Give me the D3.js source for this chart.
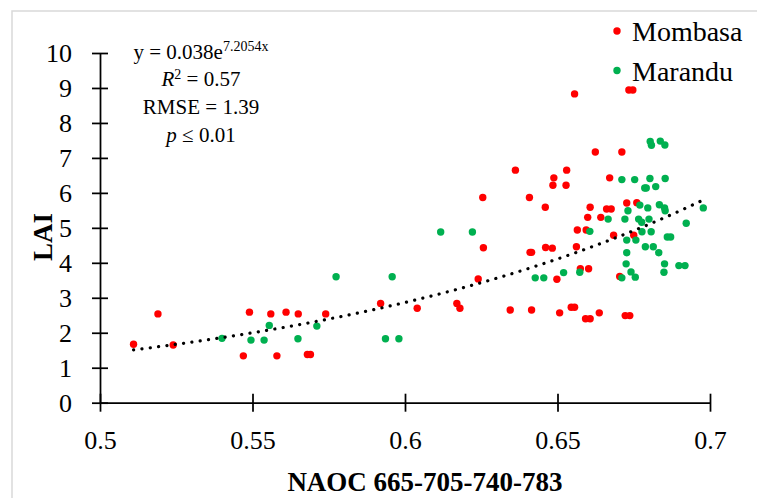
<!DOCTYPE html>
<html>
<head>
<meta charset="utf-8">
<script src="https://cdn.jsdelivr.net/npm/d3@7"></script>
<style>
  body { margin: 0; background: #fff; }
  svg text { font-family: "Liberation Serif", "Times New Roman", serif; fill: #000; }
</style>
</head>
<body>
<div id="chart"></div>
<script>
// values
var mombasaX = [0.511, 0.519, 0.524, 0.549, 0.547, 0.556, 0.558, 0.561, 0.565, 0.568, 0.569, 0.574,
  0.592, 0.604, 0.617, 0.618, 0.624, 0.6345, 0.6415, 0.6507, 0.6545, 0.6556, 0.6592, 0.6607, 0.6637,
  0.6722, 0.6737, 0.6575, 0.6602, 0.6498, 0.6704, 0.6556, 0.6734, 0.6747, 0.6624, 0.6711, 0.6362,
  0.653, 0.6488, 0.6485, 0.6528, 0.6671, 0.6255, 0.6408, 0.646, 0.6607, 0.6727, 0.676, 0.6661,
  0.6676, 0.6599, 0.6642, 0.6565, 0.6594, 0.6684, 0.675, 0.6257, 0.641, 0.6415, 0.6461, 0.6483, 0.6562]
var mombasaY = [1.67, 2.54, 1.65, 2.59, 1.34, 2.54, 1.34, 2.59, 2.54, 1.38, 1.38, 2.54,
  2.84, 2.70, 2.84, 2.70, 3.54, 2.65, 2.65, 2.57, 2.73, 2.73, 2.40, 2.40, 2.57,
  2.49, 2.49, 3.83, 3.83, 3.53, 3.61, 8.83, 8.94, 8.94, 7.17, 7.17, 6.65,
  6.65, 6.43, 6.22, 6.22, 6.43, 5.87, 5.87, 5.59, 5.59, 5.71, 5.72, 5.54,
  5.54, 5.30, 5.30, 4.94, 4.94, 4.79, 4.79, 4.43, 4.30, 4.30, 4.44, 4.42, 4.46]

var marandudX = [0.540, 0.5495, 0.5538, 0.5555, 0.5649, 0.5711, 0.5774, 0.5958, 0.5936, 0.598,
  0.6117, 0.6221, 0.6427, 0.6455, 0.652, 0.6573, 0.6711, 0.6725, 0.6741, 0.6755, 0.6727, 0.6832,
  0.6851, 0.6849, 0.6898, 0.6918, 0.6804, 0.6808, 0.6837, 0.6852, 0.6711, 0.6753, 0.6803, 0.6853,
  0.6786, 0.6791, 0.6822, 0.677, 0.6731, 0.6796, 0.6834, 0.6851, 0.6853, 0.6978, 0.6666, 0.6721,
  0.6766, 0.6776, 0.680, 0.6922, 0.6606, 0.6777, 0.6807, 0.6727, 0.6757, 0.686, 0.6871, 0.6788, 0.6814]
var marandudY = [1.84, 1.79, 1.79, 2.21, 1.83, 2.19, 3.60, 3.60, 1.83, 1.83,
  4.88, 4.88, 3.57, 3.57, 3.72, 3.73, 3.57, 3.97, 3.74, 3.59, 4.29, 4.29,
  3.97, 3.73, 3.92, 3.92, 7.47, 7.36, 7.48, 7.37, 6.38, 6.38, 6.41, 6.41,
  6.14, 6.14, 6.18, 5.65, 5.49, 5.57, 5.66, 5.57, 5.49, 5.57, 5.25, 5.25,
  5.25, 5.16, 5.25, 5.13, 4.90, 4.89, 4.89, 4.65, 4.65, 4.74, 4.74, 4.46, 4.46]

var xTicks = [0.5, 0.55, 0.6, 0.65, 0.7]
var xTickLabels = ["0.5", "0.55", "0.6", "0.65", "0.7"]
var yTicks = [0, 1, 2, 3, 4, 5, 6, 7, 8, 9, 10]
var seriesNames = ["Mombasa", "Marandu"]

// exponential trendline y = a * e^(b x), as printed on the chart
var trendA = 0.038
var trendB = 7.2054
var trendRange = [0.511, 0.7]

var width = 757
var height = 498

var svg = d3.select("#chart").append("svg")
  .attr("width", width)
  .attr("height", height)

// light frame of the figure
svg.append("rect")
  .attr("x", 12).attr("y", 11)
  .attr("width", 800).attr("height", 600)
  .attr("fill", "none")
  .attr("stroke", "#d9d9d9")
  .attr("stroke-width", 1.5)

var x = d3.scaleLinear().domain([0.5, 0.7]).range([100, 710])
var y = d3.scaleLinear().domain([0, 10]).range([402.7, 53])

// y axis
var yAxis = d3.axisLeft(y).tickValues(yTicks).tickSizeInner(9).tickSizeOuter(0).tickPadding(19)
var gy = svg.append("g").attr("transform", "translate(" + x(0.5) + ",0)").call(yAxis)
gy.selectAll(".tick line").attr("x1", -8).attr("x2", 8)

// x axis
var xAxis = d3.axisBottom(x).tickValues(xTicks).tickSizeInner(9).tickSizeOuter(0).tickPadding(19)
  .tickFormat(function (d, i) { return xTickLabels[i] })
var gx = svg.append("g").attr("transform", "translate(0," + y(0) + ")").call(xAxis)
gx.selectAll(".tick line").attr("y1", -9).attr("y2", 9)

svg.selectAll(".domain, .tick line").attr("stroke", "#000").attr("stroke-width", 1.75)
svg.selectAll(".tick text")
  .style("font-family", "'Liberation Serif', serif")
  .style("font-size", "26px")
  .attr("fill", "#000")

// axis titles
svg.append("text")
  .attr("x", 425).attr("y", 491)
  .attr("text-anchor", "middle")
  .style("font-weight", "bold").style("font-size", "27px")
  .text("NAOC 665-705-740-783")

svg.append("text")
  .attr("transform", "translate(52,237) rotate(-90)")
  .attr("text-anchor", "middle")
  .style("font-weight", "bold").style("font-size", "27px")
  .text("LAI")

// points
var mombasa = mombasaX.map(function (d, i) { return [d, mombasaY[i]] })
var marandu = marandudX.map(function (d, i) { return [d, marandudY[i]] })

svg.append("g").selectAll("circle")
  .data(mombasa)
  .enter().append("circle")
  .attr("cx", function (d) { return x(d[0]) })
  .attr("cy", function (d) { return y(d[1]) })
  .attr("r", 3.7)
  .attr("fill", "#ff0000")

svg.append("g").selectAll("circle")
  .data(marandu)
  .enter().append("circle")
  .attr("cx", function (d) { return x(d[0]) })
  .attr("cy", function (d) { return y(d[1]) })
  .attr("r", 3.7)
  .attr("fill", "#00b050")

// trendline
var trendXs = d3.range(trendRange[0], trendRange[1] + 0.0001, 0.002)
var trend = trendXs.map(function (t) { return [t, trendA * Math.exp(trendB * t)] })
var line = d3.line()
  .x(function (d) { return x(d[0]) })
  .y(function (d) { return y(d[1]) })

svg.append("path")
  .datum(trend)
  .attr("d", line)
  .attr("fill", "none")
  .attr("stroke", "#000")
  .attr("stroke-width", 3.2)
  .attr("stroke-linecap", "round")
  .attr("stroke-dasharray", "0.1 8.3")

// equation block
var eq = svg.append("g").style("font-size", "21px").attr("text-anchor", "middle")
var l1 = eq.append("text").attr("x", 201).attr("y", 59)
l1.append("tspan").text("y = 0.038e")
l1.append("tspan").attr("dy", -8).style("font-size", "14px").text("7.2054x")
var l2 = eq.append("text").attr("x", 201).attr("y", 86)
l2.append("tspan").style("font-style", "italic").text("R")
l2.append("tspan").attr("dy", -7).style("font-size", "14px").text("2")
l2.append("tspan").attr("dy", 7).text(" = 0.57")
eq.append("text").attr("x", 201).attr("y", 114).text("RMSE = 1.39")
var l4 = eq.append("text").attr("x", 201).attr("y", 142)
l4.append("tspan").style("font-style", "italic").text("p")
l4.append("tspan").text(" ≤ 0.01")

// legend
var colors = ["#ff0000", "#00b050"]
var legend = svg.append("g")
seriesNames.forEach(function (name, i) {
  var ly = 31 + i * 39.5
  legend.append("circle").attr("cx", 617).attr("cy", ly).attr("r", 3.7).attr("fill", colors[i])
  legend.append("text").attr("x", 632).attr("y", ly + 10)
    .style("font-size", "28px").text(name)
})
</script>
</body>
</html>
